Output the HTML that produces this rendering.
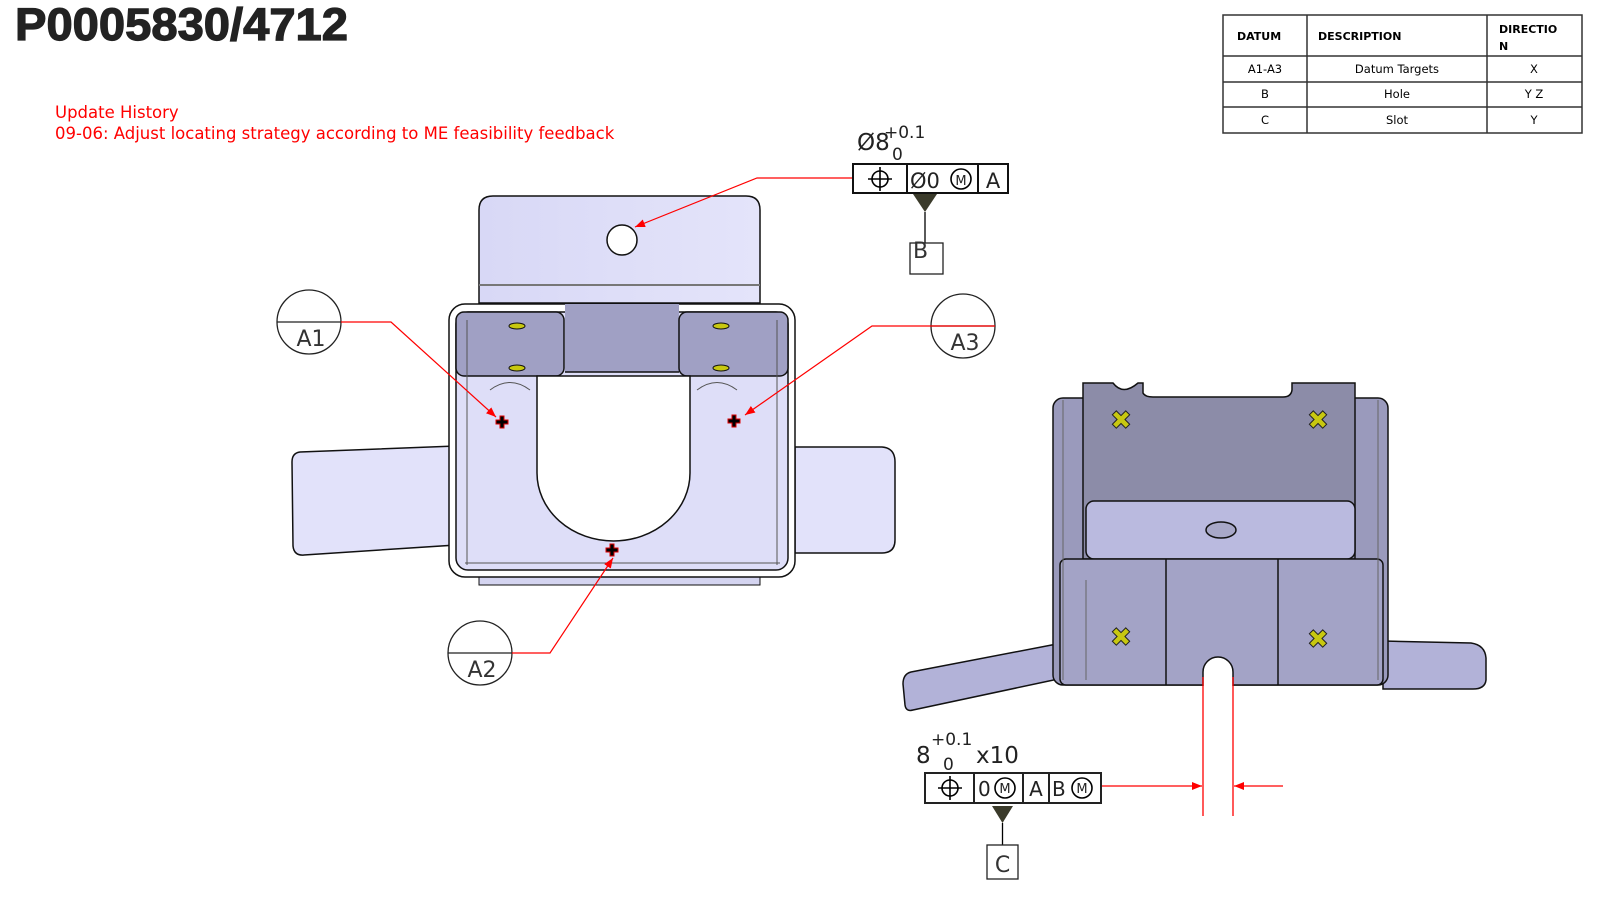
<!DOCTYPE html>
<html><head><meta charset="utf-8"><style>
html,body{margin:0;padding:0;background:#fff;width:1600px;height:900px;overflow:hidden}
svg{display:block}
text{font-family:"DejaVu Sans","Liberation Sans",sans-serif}
</style></head><body>
<svg width="1600" height="900" viewBox="0 0 1600 900" xmlns="http://www.w3.org/2000/svg">
<defs>
<marker id="ar" markerWidth="10" markerHeight="8" refX="10" refY="4" orient="auto" markerUnits="userSpaceOnUse"><path d="M0,0 L10,4 L0,8 z" fill="#f00"/></marker>
<linearGradient id="lg" x1="0" x2="1"><stop offset="0" stop-color="#d8d8f6"/><stop offset="1" stop-color="#e4e4fa"/></linearGradient>
</defs>

<text x="15" y="40" font-size="45" font-weight="bold" fill="#222" stroke="#222" stroke-width="1.2" textLength="333" lengthAdjust="spacingAndGlyphs" style="font-family:'Liberation Sans',sans-serif">P0005830/4712</text>
<text x="55" y="118" font-size="16.5" fill="#f00">Update History</text>
<text x="55" y="139" font-size="16.5" fill="#f00">09-06: Adjust locating strategy according to ME feasibility feedback</text>

<!-- table -->
<g stroke="#333" fill="none" stroke-width="1.5">
<rect x="1223" y="15" width="359" height="118"/>
<line x1="1223" y1="56" x2="1582" y2="56"/><line x1="1223" y1="82" x2="1582" y2="82"/><line x1="1223" y1="107" x2="1582" y2="107"/>
<line x1="1307" y1="15" x2="1307" y2="133"/><line x1="1487" y1="15" x2="1487" y2="133"/>
</g>
<g font-size="11" font-weight="bold" fill="#000">
<text x="1237" y="40">DATUM</text><text x="1318" y="40">DESCRIPTION</text><text x="1499" y="33">DIRECTIO</text><text x="1499" y="50">N</text>
</g>
<g font-size="11.5" fill="#000" text-anchor="middle">
<text x="1265" y="73">A1-A3</text><text x="1397" y="73">Datum Targets</text><text x="1534" y="73">X</text>
<text x="1265" y="98">B</text><text x="1397" y="98">Hole</text><text x="1534" y="98">Y Z</text>
<text x="1265" y="124">C</text><text x="1397" y="124">Slot</text><text x="1534" y="124">Y</text>
</g>

<!-- LEFT VIEW -->
<g stroke="#111" stroke-width="1.5">
<path d="M456,446 L300,452 Q292,453 292,462 L293,546 Q294,556 304,555 L456,545 z" fill="#e2e2fa"/>
<path d="M795,447 L882,447 Q895,448 895,462 L895,540 Q895,553 882,553 L795,553 z" fill="#e2e2fa"/>
<rect x="479" y="570" width="281" height="15" fill="#d4d4f0" stroke-width="1"/>
<path d="M479,303 L479,210 Q479,196 493,196 L746,196 Q760,196 760,210 L760,303 z" fill="url(#lg)"/>
<line x1="479" y1="285" x2="760" y2="285" stroke="#777" stroke-width="2"/>
<circle cx="622" cy="240" r="15" fill="#fff"/>
<rect x="449" y="304" width="346" height="273" rx="16" fill="#fff"/>
<rect x="456" y="312" width="332" height="258" rx="12" fill="#dedef8"/>
<rect x="565" y="304" width="114" height="68" fill="#a0a0c4" stroke="none"/>
<rect x="456" y="312" width="108" height="64" rx="8" fill="#a0a0c4"/>
<rect x="679" y="312" width="109" height="64" rx="8" fill="#a0a0c4"/>
<line x1="565" y1="372" x2="679" y2="372"/>
<path d="M537,376 L537,473 A76.5,68 0 0 0 690,473 L690,376 z" fill="#fff"/>
</g>
<g stroke="#555" stroke-width="1" fill="none">
<line x1="467" y1="320" x2="467" y2="565"/><line x1="777" y1="320" x2="777" y2="565"/>
<line x1="465" y1="563" x2="780" y2="563"/>
<path d="M490,390 Q510,375 530,390"/><path d="M697,390 Q717,375 737,390"/>
</g>
<g fill="#c8c810" stroke="#111" stroke-width="1">
<ellipse cx="517" cy="326" rx="8" ry="3"/><ellipse cx="517" cy="368" rx="8" ry="3"/>
<ellipse cx="721" cy="326" rx="8" ry="3"/><ellipse cx="721" cy="368" rx="8" ry="3"/>
</g>
<g fill="#000" stroke="#d00" stroke-width="1">
<path d="M500,420 h4 v-4 h4 v4 h4 v4 h-4 v4 h-4 v-4 h-4 z" transform="translate(-4,0)"/>
<path d="M732,419 h4 v-4 h4 v4 h4 v4 h-4 v4 h-4 v-4 h-4 z" transform="translate(-4,0)"/>
<path d="M610,548 h4 v-4 h4 v4 h4 v4 h-4 v4 h-4 v-4 h-4 z" transform="translate(-4,0)"/>
</g>

<!-- callouts -->
<g stroke="#222" stroke-width="1.3" fill="#fff">
<circle cx="309" cy="322" r="32"/><line x1="277" y1="322" x2="341" y2="322"/>
<circle cx="963" cy="326" r="32"/><line x1="931" y1="326" x2="995" y2="326"/>
<circle cx="480" cy="653" r="32"/><line x1="448" y1="653" x2="512" y2="653"/>
</g>
<g font-size="22" fill="#333" text-anchor="middle">
<text x="311" y="346">A1</text><text x="965" y="350">A3</text><text x="482" y="677">A2</text>
</g>
<g stroke="#f00" stroke-width="1.2" fill="none" marker-end="url(#ar)">
<polyline points="341,322 391,322 496,417"/>
<polyline points="995,326 872,326 745,415"/>
<polyline points="512,653 550,653 613,558"/>
<polyline points="857,178 757,178 635,227"/>
</g>

<!-- FCF B -->
<text x="857" y="150" font-size="23" fill="#222">Ø8</text>
<text x="884" y="138" font-size="17" fill="#222">+0.1</text>
<text x="892" y="160" font-size="17" fill="#222">0</text>
<g stroke="#111" stroke-width="2" fill="#fff">
<rect x="853" y="164" width="155" height="29"/>
<line x1="907" y1="164" x2="907" y2="193"/><line x1="978" y1="164" x2="978" y2="193"/>
</g>
<g stroke="#000" stroke-width="1.6" fill="none">
<circle cx="880" cy="179" r="8"/><line x1="868" y1="179" x2="892" y2="179"/><line x1="880" y1="167" x2="880" y2="191"/>
<circle cx="961" cy="179" r="10"/>
</g>
<text x="910" y="188" font-size="21" fill="#222">Ø0</text>
<text x="961" y="185" font-size="13" fill="#222" text-anchor="middle">M</text>
<text x="993" y="188" font-size="21" fill="#222" text-anchor="middle">A</text>
<path d="M913,194 L937,194 L925,212 z" fill="#3a3a2a"/>
<line x1="925" y1="212" x2="925" y2="243" stroke="#000" stroke-width="1.3"/>
<rect x="910" y="243" width="33" height="31" fill="#fff" stroke="#222" stroke-width="1.3"/>
<text x="913" y="258" font-size="22" fill="#333">B</text>

<!-- RIGHT VIEW -->
<g transform="translate(-7,0)">
<g stroke="#111" stroke-width="1.5">
<path d="M1069,643 L918,672 Q910,674 910,684 L912,705 Q913,712 920,710 L1070,678 z" fill="#b2b2d8"/>
<path d="M1390,641 L1478,643 Q1492,645 1493,658 L1493,680 Q1492,689 1480,689 L1390,689 z" fill="#b2b2d8"/>
<rect x="1060" y="398" width="335" height="287" rx="10" fill="#9a9abc"/>
<path d="M1090,383 L1120,383 Q1130,396 1145,383 L1150,383 L1150,393 Q1152,397 1160,397 L1290,397 Q1298,397 1299,390 L1299,383 L1362,383 L1362,559 L1090,559 z" fill="#8c8ca8"/>
<rect x="1093" y="501" width="269" height="58" rx="8" fill="#babadf"/>
<ellipse cx="1228" cy="530" rx="15" ry="8" fill="#a8a8c8"/>
<rect x="1067" y="559" width="323" height="126" rx="6" fill="#a3a3c6"/>
<line x1="1173" y1="559" x2="1173" y2="685"/><line x1="1285" y1="559" x2="1285" y2="685"/>
<path d="M1210,686 L1210,672 A15,15 0 0 1 1240,672 L1240,686" fill="#fff"/>
</g>
<g stroke="#666" stroke-width="1" fill="none">
<line x1="1070" y1="400" x2="1070" y2="680"/><line x1="1385" y1="400" x2="1385" y2="680"/>
<line x1="1093" y1="580" x2="1093" y2="680"/>
</g>
<g fill="#c8c810" stroke="#222" stroke-width="1" font-size="26" font-weight="bold" text-anchor="middle">
<text x="1128" y="429">✖</text><text x="1325" y="429">✖</text>
<text x="1128" y="646">✖</text><text x="1325" y="648">✖</text>
</g>
<g stroke="#f00" stroke-width="1.3">
<line x1="1210" y1="677" x2="1210" y2="816"/><line x1="1240" y1="677" x2="1240" y2="816"/>
</g>
<g stroke="#f00" stroke-width="1.3" marker-end="url(#ar)">
<line x1="1290" y1="786" x2="1241" y2="786"/>
</g>
</g>
<line x1="1102" y1="786" x2="1202" y2="786" stroke="#f00" stroke-width="1.3" marker-end="url(#ar)"/>

<!-- FCF C -->
<text x="916" y="763" font-size="23" fill="#222">8</text>
<text x="931" y="745" font-size="17" fill="#222">+0.1</text>
<text x="943" y="770" font-size="17" fill="#222">0</text>
<text x="976" y="763" font-size="23" fill="#222">x10</text>
<g stroke="#222" stroke-width="2" fill="#fff">
<rect x="925" y="773" width="176" height="30"/>
<line x1="974" y1="773" x2="974" y2="803"/><line x1="1023" y1="773" x2="1023" y2="803"/><line x1="1049" y1="773" x2="1049" y2="803"/>
</g>
<g stroke="#000" stroke-width="1.6" fill="none">
<circle cx="950" cy="788" r="8"/><line x1="938" y1="788" x2="962" y2="788"/><line x1="950" y1="776" x2="950" y2="800"/>
<circle cx="1005" cy="788" r="10"/><circle cx="1082" cy="788" r="10"/>
</g>
<text x="978" y="796" font-size="20" fill="#222">0</text>
<text x="1005" y="793" font-size="13" fill="#222" text-anchor="middle">M</text>
<text x="1036" y="796" font-size="20" fill="#222" text-anchor="middle">A</text>
<text x="1052" y="796" font-size="20" fill="#222">B</text>
<text x="1082" y="793" font-size="13" fill="#222" text-anchor="middle">M</text>
<path d="M992,806 L1013,806 L1002.5,823 z" fill="#3a3a2a"/>
<line x1="1002.5" y1="823" x2="1002.5" y2="845" stroke="#000" stroke-width="1.3"/>
<rect x="987" y="845" width="31" height="34" fill="#fff" stroke="#222" stroke-width="1.3"/>
<text x="1002.5" y="872" font-size="22" fill="#333" text-anchor="middle">C</text>
</svg>
</body></html>
